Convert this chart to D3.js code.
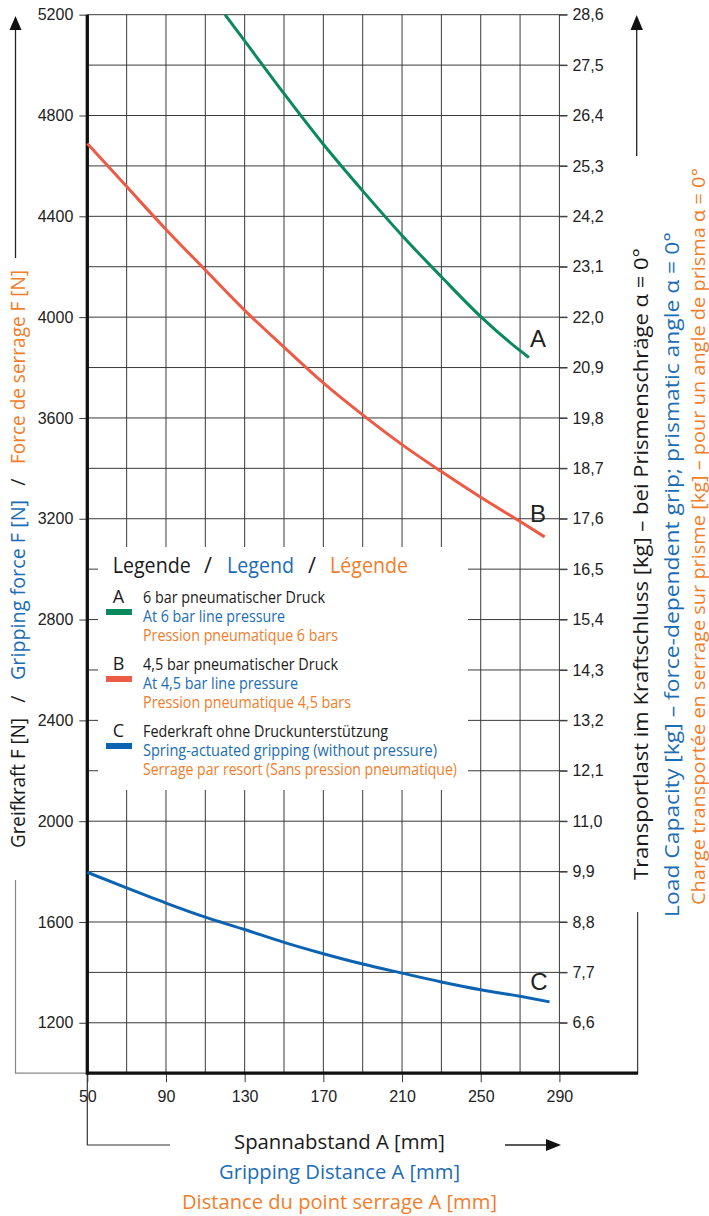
<!DOCTYPE html>
<html>
<head>
<meta charset="utf-8">
<script src="https://cdn.jsdelivr.net/npm/d3@7"></script>
<style>
  html, body { margin: 0; padding: 0; background: #fff; }
  svg { display: block; }
</style>
</head>
<body>
<svg id="chart" width="709" height="1216"></svg>
<script>
// Gripping distance A [mm] and gripping force F [N] for the three operating modes
const distanceA = [120, 130, 150, 170, 190, 210, 230, 250, 270, 274.5];
const forceA    = [5200, 5096, 4887, 4686, 4501, 4324, 4160, 4002, 3867, 3840];
const distanceB = [50, 70, 90, 110, 130, 150, 170, 190, 210, 230, 250, 270, 282.5];
const forceB    = [4689, 4518, 4348, 4187, 4027, 3881, 3739, 3612, 3494, 3387, 3285, 3189, 3128];
const distanceC = [50, 70, 90, 110, 130, 150, 170, 190, 210, 230, 250, 270, 285];
const forceC    = [1797, 1735, 1675, 1619, 1570, 1519, 1474, 1433, 1397, 1362, 1331, 1305, 1283];

const curveKeys = ["A", "B", "C"];

// Axis tick labels
const distanceTicks = [50, 90, 130, 170, 210, 250, 290];
const forceTicks = [1200, 1600, 2000, 2400, 2800, 3200, 3600, 4000, 4400, 4800, 5200];
const loadTicks = [6.6, 7.7, 8.8, 9.9, 11.0, 12.1, 13.2, 14.3, 15.4, 16.5, 17.6,
                   18.7, 19.8, 20.9, 22.0, 23.1, 24.2, 25.3, 26.4, 27.5, 28.6];

// Legend texts (German / English / French)
const legendDe = ["6 bar pneumatischer Druck", "4,5 bar pneumatischer Druck", "Federkraft ohne Druckunterstützung"];
const legendEn = ["At 6 bar line pressure", "At 4,5 bar line pressure", "Spring-actuated gripping (without pressure)"];
const legendFr = ["Pression pneumatique 6 bars", "Pression pneumatique 4,5 bars", "Serrage par resort (Sans pression pneumatique)"];

// ---------------------------------------------------------------------------
const COL = {
  green: "#0a8a5c", red: "#ec5b45", blue: "#0b63b1",
  ink: "#1a1a1a", tBlue: "#1b6db5", tOrange: "#f27d2b", grid: "#3a3a3a"
};
const SANS = "'Open Sans', 'Noto Sans', sans-serif";
const NUM = "'Liberation Sans', Arial, sans-serif";

const svg = d3.select("#chart");

const x = d3.scaleLinear().domain([50, 330]).range([87.3, 638.1]);
const y = d3.scaleLinear().domain([1000, 5200]).range([1073.2, 14.7]);
const yKg = d3.scaleLinear().domain([5.5, 28.6]).range([1073.2, 14.7]);

// grid: every 200 N and every 20 mm
const grid = svg.append("g").attr("stroke", COL.grid).attr("stroke-width", 1);
grid.selectAll("line.h").data(d3.range(1200, 5201, 200)).join("line").attr("class", "h")
  .attr("x1", x(50)).attr("x2", x(290) + 8)
  .attr("y1", d => y(d)).attr("y2", d => y(d));
grid.selectAll("line.v").data(d3.range(70, 291, 20)).join("line").attr("class", "v")
  .attr("x1", d => x(d)).attr("x2", d => x(d))
  .attr("y1", y(5200)).attr("y2", y(1000));

// axes
function styleAxis(g) {
  g.select(".domain").remove();
  g.attr("font-family", NUM).attr("font-size", 16);
  g.selectAll(".tick line").attr("stroke", COL.grid).attr("stroke-width", 1);
  g.selectAll(".tick text").attr("fill", "#222");
}
svg.append("g").attr("transform", `translate(${x(50)},0)`)
  .call(d3.axisLeft(y).tickValues(forceTicks).tickSize(8).tickPadding(6).tickFormat(d3.format("d")))
  .call(styleAxis);
svg.append("g").attr("transform", `translate(${x(290)},0)`)
  .call(d3.axisRight(yKg).tickValues(loadTicks).tickSize(8).tickPadding(5)
    .tickFormat(d => d3.format(".1f")(d).replace(".", ",")))
  .call(styleAxis);
svg.append("g").attr("transform", `translate(0,${y(1000)})`)
  .call(d3.axisBottom(x).tickValues(distanceTicks).tickSize(9).tickPadding(8))
  .call(styleAxis);

// frame lines
const frame = svg.append("g").attr("fill", "none");
frame.append("path").attr("stroke", "#888").attr("stroke-width", 1.2)
  .attr("d", `M15.5,880 V${y(1000)} H${x(50)}`);
frame.append("path").attr("stroke", "#444").attr("stroke-width", 1.3)
  .attr("d", `M${x(330) - 0.5},912 V${y(1000)}`);
frame.append("path").attr("stroke", "#333").attr("stroke-width", 1.2)
  .attr("d", `M${x(50)},${y(1000)} V1145 H170`);
frame.append("line").attr("stroke", "#222").attr("stroke-width", 1.3)
  .attr("x1", 505).attr("x2", 547).attr("y1", 1145).attr("y2", 1145);
frame.append("line").attr("stroke", "#222").attr("stroke-width", 1.3)
  .attr("x1", 15.5).attr("x2", 15.5).attr("y1", 28).attr("y2", 258);
frame.append("line").attr("stroke", "#222").attr("stroke-width", 1.3)
  .attr("x1", 636.7).attr("x2", 636.7).attr("y1", 28).attr("y2", 156);

// arrow heads
const heads = svg.append("g").attr("fill", "#111");
heads.append("path").attr("d", "M15.5,16 L9.5,30 L21.5,30 Z");
heads.append("path").attr("d", "M636.7,15 L630.5,30 L642.9,30 Z");
heads.append("path").attr("d", "M561,1145 L546,1139 L546,1151 Z");

// thick axis lines
svg.append("line").attr("x1", x(50)).attr("x2", x(50)).attr("y1", y(5200)).attr("y2", y(1000) + 1.6)
  .attr("stroke", "#111").attr("stroke-width", 3.3);
svg.append("line").attr("x1", x(50)).attr("x2", x(330)).attr("y1", y(1000)).attr("y2", y(1000))
  .attr("stroke", "#111").attr("stroke-width", 3.3);

// curves
const series = [
  { key: "A", color: COL.green, pts: d3.zip(distanceA, forceA) },
  { key: "B", color: COL.red,   pts: d3.zip(distanceB, forceB) },
  { key: "C", color: COL.blue,  pts: d3.zip(distanceC, forceC) }
];
const line = d3.line().x(d => x(d[0])).y(d => y(d[1])).curve(d3.curveMonotoneX);
svg.append("g").selectAll("path").data(series).join("path")
  .attr("fill", "none").attr("stroke", d => d.color).attr("stroke-width", 3)
  .attr("d", d => line(d.pts));

// curve letters next to the line ends
const letterPos = { A: [538, 347], B: [538, 522], C: [539, 990] };
svg.append("g").selectAll("text").data(curveKeys).join("text")
  .attr("x", d => letterPos[d][0]).attr("y", d => letterPos[d][1])
  .attr("text-anchor", "middle").attr("font-family", NUM).attr("font-size", 24)
  .attr("fill", "#222").text(d => d);

// helper for fitted text
function fitText(parent, str, xPos, yPos, width, color, size, anchor) {
  return parent.append("text")
    .attr("x", xPos).attr("y", yPos)
    .attr("font-family", SANS).attr("font-size", size).attr("fill", color)
    .attr("text-anchor", anchor || "start")
    .attr("textLength", width).attr("lengthAdjust", "spacingAndGlyphs")
    .text(str);
}

// legend
const leg = svg.append("g");
leg.append("rect").attr("x", 98).attr("y", 547).attr("width", 370).attr("height", 243).attr("fill", "#fff");
fitText(leg, "Legende", 112.7, 573, 78, COL.ink, 21);
fitText(leg, "/", 204, 573, 8, COL.ink, 21);
fitText(leg, "Legend", 227, 573, 67, COL.tBlue, 21);
fitText(leg, "/", 308, 573, 8, COL.ink, 21);
fitText(leg, "Légende", 330, 573, 78, COL.tOrange, 21);

const deW = [182, 195, 245], enW = [142, 155, 294], frW = [195, 208, 314];
curveKeys.forEach((k, i) => {
  const b = 603 + i * 67;
  leg.append("text").attr("x", 118.5).attr("y", b).attr("text-anchor", "middle")
    .attr("font-family", SANS).attr("font-size", 18).attr("fill", COL.ink).text(k);
  leg.append("rect").attr("x", 106).attr("y", b + 6).attr("width", 26).attr("height", 6)
    .attr("fill", series[i].color);
  fitText(leg, legendDe[i], 143, b, deW[i], COL.ink, 16.5);
  fitText(leg, legendEn[i], 143, b + 19, enW[i], COL.tBlue, 16.5);
  fitText(leg, legendFr[i], 143, b + 38, frW[i], COL.tOrange, 16.5);
});

// x-axis titles
fitText(svg, "Spannabstand A [mm]", 234, 1149, 211, COL.ink, 20);
fitText(svg, "Gripping Distance A [mm]", 219, 1179, 241, COL.tBlue, 20);
fitText(svg, "Distance du point serrage A [mm]", 182, 1209, 315, COL.tOrange, 20);

// vertical titles
function vText(str, bx, y0, y1, color, size) {
  svg.append("text").attr("transform", `translate(${bx},${y0}) rotate(-90)`)
    .attr("font-family", SANS).attr("font-size", size).attr("fill", color)
    .attr("textLength", y0 - y1).attr("lengthAdjust", "spacingAndGlyphs")
    .text(str);
}
function vSlash(bx, yc, size) {
  svg.append("text").attr("transform", `translate(${bx},${yc}) rotate(-90)`)
    .attr("font-family", SANS).attr("font-size", size).attr("fill", COL.ink)
    .attr("text-anchor", "middle").text("/");
}
vText("Greifkraft F [N]", 25, 848, 718, COL.ink, 20);
vSlash(25, 699, 20);
vText("Gripping force F [N]", 25, 680, 500, COL.tBlue, 20);
vSlash(25, 482, 20);
vText("Force de serrage F [N]", 25, 464, 270, COL.tOrange, 20);

vText("Transportlast im Kraftschluss [kg] – bei Prismenschräge α = 0°", 648, 880, 248, COL.ink, 20);
vText("Load Capacity [kg] – force-dependent grip; prismatic angle α = 0°", 679, 917, 232, COL.tBlue, 20);
vText("Charge transportée en serrage sur prisme [kg] – pour un angle de prisma α = 0°", 705, 905, 168, COL.tOrange, 19);
</script>
</body>
</html>
